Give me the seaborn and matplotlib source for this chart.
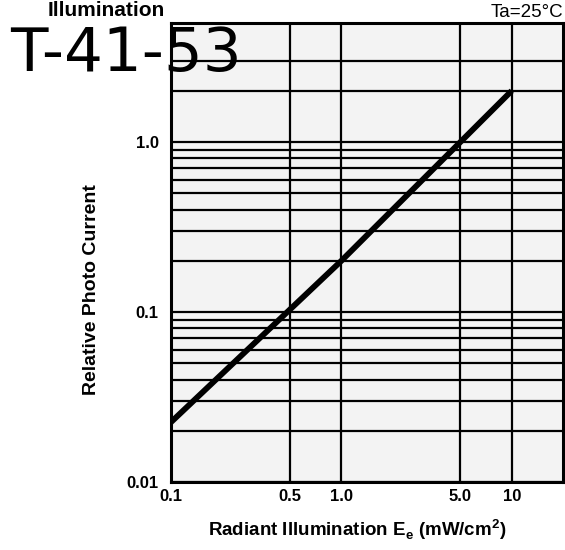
import numpy as np
import pandas as pd
import matplotlib
matplotlib.use("Agg")
import matplotlib.pyplot as plt
import seaborn as sns

# Relative photo current vs. radiant illumination (Ta = 25 °C)
irradiance = [0.1, 1.0, 10.0]          # mW/cm²
rel_current = [0.0225, 0.2, 2.0]       # relative photo current

x_ticks = [0.1, 0.5, 1.0, 5.0, 10.0]
x_tick_labels = ["0.1", "0.5", "1.0", "5.0", "10"]
y_ticks = [0.01, 0.1, 1.0]
y_tick_labels = ["0.01", "0.1", "1.0"]
y_minor_grid = [0.02, 0.03, 0.04, 0.05, 0.06, 0.07, 0.08, 0.09,
                0.2, 0.3, 0.4, 0.5, 0.6, 0.7, 0.8, 0.9, 2.0, 3.0]

df = pd.DataFrame({"E": irradiance, "I": rel_current})

sns.set_theme(style="white")
plt.rcParams["font.family"] = ["Liberation Sans", "DejaVu Sans"]

fig = plt.figure(figsize=(5.65, 5.50), dpi=100)
ax = fig.add_axes([0.3027, 0.1236, 0.9965 - 0.3027, 0.958 - 0.1236])
ax.set_facecolor("#f3f3f3")

ax.set_xscale("log")
ax.set_yscale("log")
ax.set_xlim(0.1, 20)
ax.set_ylim(0.01, 5)

sns.lineplot(data=df, x="E", y="I", ax=ax, color="black", linewidth=4.2,
             solid_capstyle="butt", zorder=5)

ax.set_xticks(x_ticks)
ax.set_xticklabels(x_tick_labels)
ax.set_yticks(y_ticks)
ax.set_yticklabels(y_tick_labels)
ax.set_xticks([], minor=True)
ax.set_yticks(y_minor_grid, minor=True)
ax.tick_params(axis="both", which="both", length=0)
ax.tick_params(axis="x", pad=5)
ax.tick_params(axis="y", pad=9)
for lab in ax.get_xticklabels() + ax.get_yticklabels():
    lab.set_fontweight("bold")
    lab.set_fontsize(12)
    lab.set_color("black")

ax.grid(True, which="major", axis="both", color="black", linewidth=1.6)
ax.grid(True, which="minor", axis="y", color="black", linewidth=1.6)
ax.set_axisbelow(True)
for s in ax.spines.values():
    s.set_visible(True)
    s.set_color("black")
    s.set_linewidth(2.2)

ax.set_xlabel("")
ax.set_ylabel("")
fig.text(357 / 565, 1 - 530 / 550,
         r"Radiant Illumination E$_\mathregular{e}$ (mW/cm$^\mathregular{2}$)",
         fontsize=13.5, fontweight="bold", color="black",
         ha="center", va="center")
fig.text(92 / 565, 1 - 290 / 550, "Relative Photo Current", fontsize=14,
         fontweight="bold", color="black", rotation=90,
         ha="center", va="center")

fig.text(0.085, 0.999, "Illumination", fontsize=15, fontweight="bold",
         ha="left", va="top", color="black")
fig.text(0.997, 0.978, "Ta=25°C", fontsize=13.5, ha="right", va="center",
         color="black")
fig.text(0.018, 0.9, "T-41-53", fontsize=44, ha="left", va="center",
         color="black", family="DejaVu Sans")

fig.savefig("out.png", dpi=100)
